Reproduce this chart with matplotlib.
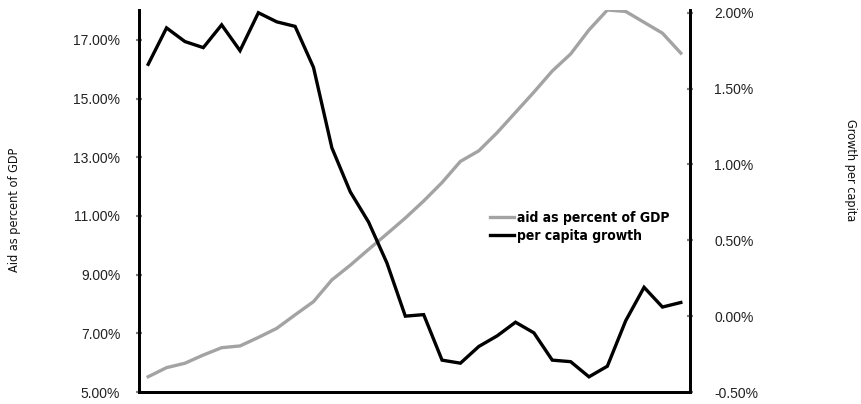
import matplotlib
matplotlib.use("Agg")
import matplotlib.pyplot as plt
from matplotlib.ticker import FuncFormatter
from matplotlib import font_manager as fm
import matplotlib.patheffects as pe
import numpy as np

years = list(range(1970, 2000))
aid_pct_gdp = [5.52, 5.83, 5.98, 6.26, 6.51, 6.57, 6.86, 7.17, 7.63, 8.08,
               8.82, 9.32, 9.86, 10.39, 10.93, 11.51, 12.14, 12.86, 13.22, 13.84,
               14.53, 15.22, 15.94, 16.52, 17.34, 18.02, 17.97, 17.60, 17.23, 16.55]
growth_per_capita = [1.66, 1.90, 1.81, 1.77, 1.92, 1.75, 2.00, 1.94, 1.91, 1.64,
                     1.11, 0.82, 0.62, 0.35, 0.00, 0.01, -0.29, -0.31, -0.20, -0.13,
                     -0.04, -0.11, -0.29, -0.30, -0.40, -0.33, -0.03, 0.19, 0.06, 0.09]
left_ticks = [5, 7, 9, 11, 13, 15, 17]
right_ticks = [-0.5, 0.0, 0.5, 1.0, 1.5, 2.0]

# pick fonts: condensed if available
def find_font(bold):
    best = None
    for f in fm.fontManager.ttflist:
        key = (f.name + ' ' + f.fname).lower()
        if ('narrow' in key or 'condensed' in key) and 'oblique' not in key and 'italic' not in key:
            isbold = (f.weight in ('bold', 700) or 'bold' in key)
            if isbold == bold and 'semi' not in key and 'light' not in key and 'extra' not in key:
                if best is None or 'liberation' in key:
                    best = f.fname
    return best

reg_cond = find_font(False)
bold_cond = find_font(True)
fake_bold = False
tick_prop = fm.FontProperties(family='Liberation Sans', size=10)
if reg_cond:
    title_prop = fm.FontProperties(fname=reg_cond, size=9.1)
else:
    title_prop = fm.FontProperties(family='Liberation Sans', size=8.5)
if bold_cond:
    legend_prop = fm.FontProperties(fname=bold_cond, size=10)
elif reg_cond:
    legend_prop = fm.FontProperties(fname=reg_cond, size=8.8)
    fake_bold = True
else:
    legend_prop = fm.FontProperties(family='Liberation Sans', weight='bold', size=8)

plt.rcParams['font.family'] = ['Liberation Sans', 'DejaVu Sans']

W, H = 861, 404
fig = plt.figure(figsize=(W / 100, H / 100), dpi=100)
ax = fig.add_axes([139 / W, 1 - 392 / H, (690 - 139) / W, (392 - 10) / H])
ax2 = ax.twinx()

x = np.arange(len(years))
l1, = ax.plot(x, aid_pct_gdp, color='#a3a3a3', lw=2.4, solid_joinstyle='miter')
l2, = ax2.plot(x, growth_per_capita, color='#000000', lw=2.4, solid_joinstyle='miter')

ax.set_xlim(-0.5, len(years) - 0.5)
ax.set_ylim(5, 18.02)
ax2.set_ylim(-0.5, 2.018)
ax.set_yticks(left_ticks)
ax2.set_yticks(right_ticks)
ax.yaxis.set_major_formatter(FuncFormatter(lambda v, p: f"{v:.2f}%"))
ax2.yaxis.set_major_formatter(FuncFormatter(lambda v, p: f"{v:.2f}%"))
ax.set_xticks([])

for a in (ax, ax2):
    a.spines['top'].set_visible(False)
    for s in ('left', 'right', 'bottom'):
        a.spines[s].set_linewidth(2.0)
        a.spines[s].set_color('black')
    a.set_facecolor('none')
ax.tick_params(axis='y', direction='inout', length=5, width=1.6, color='#808080',
               labelcolor='#222222', pad=11)
ax2.tick_params(axis='y', direction='inout', length=5, width=1.6, color='#808080',
                labelcolor='#222222', pad=15)
for lab in ax.get_yticklabels() + ax2.get_yticklabels():
    lab.set_fontproperties(tick_prop)

fig.text(15 / W, 1 - 210 / H, 'Aid as percent of GDP', rotation=90, ha='center', va='center',
         fontproperties=title_prop, color='#111111')
fig.text(851 / W, 1 - 170 / H, 'Growth per capita', rotation=-90, ha='center', va='center',
         fontproperties=title_prop, color='#111111')

leg = fig.legend([l1, l2], ['aid as percent of GDP', 'per capita growth'],
                 loc='upper left', bbox_to_anchor=(490 / W, 1 - 211 / H),
                 frameon=False, handlelength=1.7, handletextpad=0.25,
                 labelspacing=0.3, borderpad=0, borderaxespad=0,
                 prop=legend_prop)
if fake_bold:
    for t in leg.get_texts():
        t.set_path_effects([pe.withStroke(linewidth=0.9, foreground='black')])

fig.savefig('out.png', dpi=100)
